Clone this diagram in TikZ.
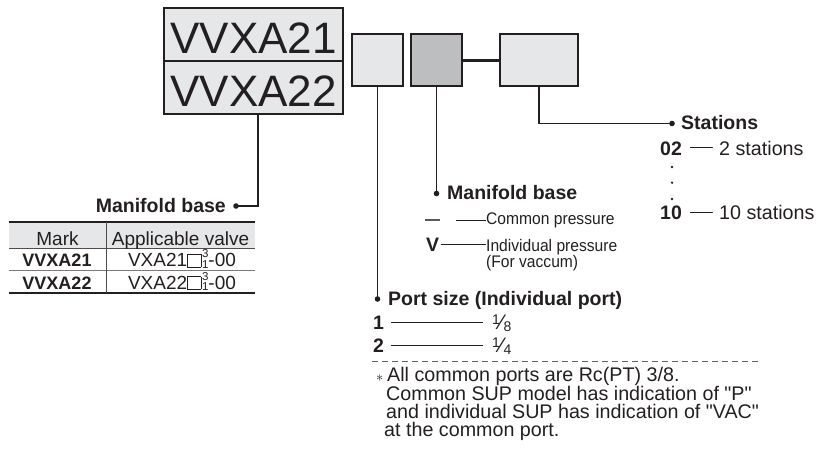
\documentclass[tikz,border=0pt]{standalone}
\usepackage{fontspec}
\setmainfont{Liberation Sans}
\newfontfamily\narrowfont{Liberation Sans}[FakeStretch=0.93]

\definecolor{ink}{HTML}{231F20}
\definecolor{boxlight}{HTML}{E6E7E8}
\definecolor{boxdark}{HTML}{BCBEC0}

\newcommand{\fsz}[1]{\fontsize{#1}{#1}\selectfont}
\newcommand{\blank}{{\fboxsep=0pt\fboxrule=0.8pt\fbox{\rule{0pt}{12pt}\rule{12.5pt}{0pt}}}}
\newcommand{\updn}{\kern0.8pt\rlap{\raisebox{9pt}{\fsz{11.5}3}}\raisebox{-1.5pt}{\fsz{11.5}1}}
\newcommand{\frc}[2]{\raisebox{5pt}{\fsz{14}#1}{\fsz{21}\char"2044}\raisebox{-2pt}{\fsz{14}#2}}

\tikzset{
  bigbox/.style={draw=ink, line width=2pt, fill=boxlight, minimum width=179pt,
    minimum height=53pt, font=\fsz{44}, text height=38.5pt, text depth=0pt},
  codebox/.style={draw=ink, line width=2pt, minimum width=51pt, minimum height=52pt},
  stem/.style={draw=ink, line width=1.7pt},
  tie/.style={draw=ink, line width=0.9pt},
  head/.style={anchor=base west, font=\bfseries\fsz{19.5}},
  keytxt/.style={anchor=base west, font=\bfseries\fsz{19.5}, text height=14.6pt, text depth=0pt},
  desc/.style={anchor=base west, font=\fsz{19.7}, text height=14.6pt, text depth=0pt},
  narrow/.style={anchor=base west, font=\narrowfont\fsz{16.8}},
  note/.style={anchor=base west, font=\fsz{19.7}},
  cell/.style={anchor=base, font=\fsz{19}},
}

\begin{document}
\begin{tikzpicture}[x=1pt,y=-1pt, every node/.style={text=ink, inner sep=0pt}]
\useasboundingbox (0,0) rectangle (826,452);

% code boxes
\node[bigbox] (bigA) at (253.5,34.5) {VVXA21};
\node[bigbox] (bigB) at (253.5,87.5) {VVXA22};
\node[codebox, fill=boxlight] (port) at (377.5,60) {};
\node[codebox, fill=boxdark] (base) at (436.5,60) {};
\node[codebox, fill=boxlight, minimum width=78pt] (stat) at (539,60) {};
\draw[ink, line width=3pt] (base.east) -- (stat.west);

% leaders
\coordinate (dotA) at (236,206);
\coordinate (dotB) at (436.5,193.5);
\coordinate (dotC) at (377.5,299);
\coordinate (dotD) at (672,123.5);
\draw[stem] ([xshift=4.5pt]bigB.south) |- (dotA);
\draw[stem] (base.south) -- (dotB);
\draw[stem] (port.south) -- (dotC);
\draw[stem] (stat.south) |- (dotD);
\foreach \d in {dotA,dotB,dotC,dotD}
  \fill[ink] (\d) circle (2.8);

% manifold base (left) and table
\node[head, anchor=base east] (mbA) at (226,212.5) {Manifold base};
\fill[boxlight] (9,222) rectangle (255,248);
\draw[ink, line width=2pt] (9,222) -- (255,222);
\draw[ink!80, line width=0.8pt] (9,248) -- (255,248);
\draw[ink!60, line width=0.8pt] (9,270) -- (255,270);
\draw[ink, line width=1.5pt] (9,293) -- (255,293);
\draw[ink!80, line width=0.8pt] (106,222) -- (106,293);
\node[cell] (hMark) at (57.5,245) {Mark};
\node[cell] (hValve) at (180.5,245) {Applicable valve};
\node[cell, font=\bfseries\fsz{18}] (m21) at (57,266.7) {VVXA21};
\node[cell] (v21) at (182,266.7) {VXA21\blank\updn-00};
\node[cell, font=\bfseries\fsz{18}] (m22) at (57,289) {VVXA22};
\node[cell] (v22) at (182,289) {VXA22\blank\updn-00};

% stations
\node[head] (hStat) at (681,129.3) {Stations};
\node[keytxt] (k02) at (660,155) {02};
\node[desc] (d02) at (719,155) {2 stations};
\node[keytxt] (k10) at (660,219.3) {10};
\node[desc] (d10) at (719,219.3) {10 stations};
\draw[tie, shorten <=8pt, shorten >=6pt] (k02) -- (d02);
\draw[tie, shorten <=8pt, shorten >=6pt] (k10) -- (d10);
\foreach \y in {167,182.7,199}
  \fill[ink] (672,\y) circle (1.3);

% manifold base (right)
\node[head] (mbB) at (447,199.3) {Manifold base};
\node[keytxt, font=\bfseries\fsz{15}, text height=7.6pt] (kNone) at (425,224.5) {—};
\node[narrow, text height=7.6pt, text depth=0pt] (dCom) at (486,224.5) {Common pressure};
\node[keytxt, text height=15.4pt] (kV) at (426,251.7) {V};
\node[narrow, text height=15.4pt, text depth=0pt] (dInd) at (486,251.7) {Individual pressure};
\node[narrow] (dVac) at (486,267.5) {(For vaccum)};
\draw[tie, shorten <=16pt] (kNone) -- (dCom);
\draw[tie, shorten <=2pt] (kV) -- (dInd);

% port size
\node[head] (hPort) at (388,305.8) {Port size (Individual port)};
\node[keytxt, text height=14pt] (k1) at (373,329.3) {1};
\node[desc, text height=14pt] (f1) at (492,329.3) {\frc18};
\node[keytxt, text height=15.4pt] (k2) at (373,352.7) {2};
\node[desc, text height=15.4pt] (f2) at (492,352.7) {\frc14};
\draw[tie, shorten <=7pt, shorten >=9pt] (k1) -- (f1);
\draw[tie, shorten <=7pt, shorten >=9pt] (k2) -- (f2);

% note
\draw[ink!70, line width=0.8pt, dash pattern=on 6pt off 4pt] (372,361) -- (760,361);
\node[note, font=\fsz{14}] (ast) at (376,381.7) {$\ast$};
\node[note] (n1) at (387,381.7) {All common ports are Rc(PT) 3/8.};
\node[note] (n2) at (386,400) {Common SUP model has indication of \textquotedbl P\textquotedbl};
\node[note] (n3) at (386,418.3) {and individual SUP has indication of \textquotedbl VAC\textquotedbl};
\node[note] (n4) at (384,436.5) {at the common port.};
\end{tikzpicture}
\end{document}
